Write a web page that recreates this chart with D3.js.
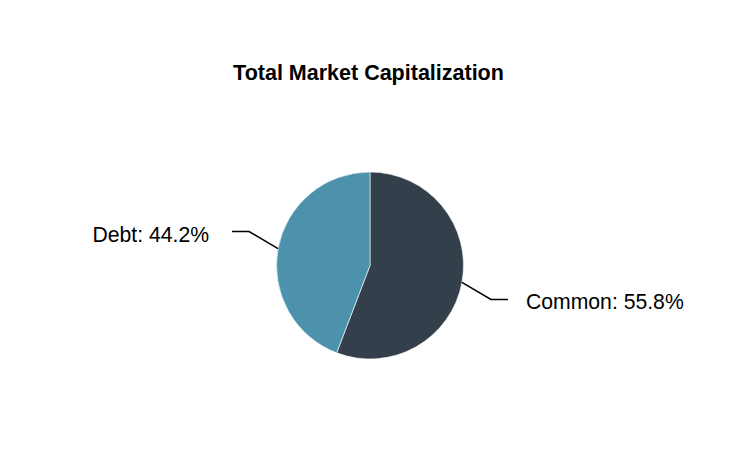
<!DOCTYPE html>
<html>
<head>
<meta charset="utf-8">
<script src="https://cdn.jsdelivr.net/npm/d3@7"></script>
<style>
  body { margin: 0; background: #fff; }
  svg { display: block; font-family: "Liberation Sans", Arial, sans-serif; }
</style>
</head>
<body>
<svg id="chart" width="740" height="452"></svg>
<script>
var categories = ['Common', 'Debt'];
var shares = [55.8, 44.2];
var colors = ['#333f4a', '#4d92ac'];

var W = 740, H = 452;
var CX = 370, CY = 265.5, RADIUS = 93.5;

var svg = d3.select('#chart');

svg.append('text')
    .attr('x', 368.5)
    .attr('y', 80)
    .attr('text-anchor', 'middle')
    .style('font-weight', 'bold')
    .style('font-size', '21.5px')
    .text('Total Market Capitalization');

var pie = d3.pie().sort(null).value(function(d){ return d; });
var arc = d3.arc().innerRadius(0).outerRadius(RADIUS);

var slices = pie(shares);

var g = svg.append('g').attr('transform', 'translate(' + CX + ',' + CY + ')');

g.selectAll('path.slice')
    .data(slices)
    .enter()
    .append('path')
    .attr('class', 'slice')
    .attr('d', arc)
    .attr('fill', function(d, i){ return colors[i]; })
    .attr('stroke', '#ffffff')
    .attr('stroke-width', 0.6);

// leader lines: edge of slice -> elbow -> short horizontal run
function leaderPoints(d) {
    var a = (d.startAngle + d.endAngle) / 2;
    var ex = RADIUS * Math.sin(a), ey = -RADIUS * Math.cos(a);
    var sx = ex >= 0 ? 1 : -1, sy = ey >= 0 ? 1 : -1;
    var bx = ex + sx * 29, by = ey + sy * 17;
    return [[ex, ey], [bx, by], [bx + sx * 17, by]];
}

var line = d3.line();

g.selectAll('path.leader')
    .data(slices)
    .enter()
    .append('path')
    .attr('class', 'leader')
    .attr('d', function(d){ return line(leaderPoints(d)); })
    .attr('fill', 'none')
    .attr('stroke', '#000')
    .attr('stroke-width', 1.5);

g.selectAll('text.label')
    .data(slices)
    .enter()
    .append('text')
    .attr('class', 'label')
    .attr('x', function(d){
        var p = leaderPoints(d)[2];
        return p[0] + (p[0] >= 0 ? 18 : -23);
    })
    .attr('y', function(d){ return leaderPoints(d)[2][1] + 10; })
    .attr('text-anchor', function(d){ return leaderPoints(d)[2][0] >= 0 ? 'start' : 'end'; })
    .style('font-size', '21.2px')
    .text(function(d, i){ return categories[i] + ': ' + shares[i].toFixed(1) + '%'; });
</script>
</body>
</html>
